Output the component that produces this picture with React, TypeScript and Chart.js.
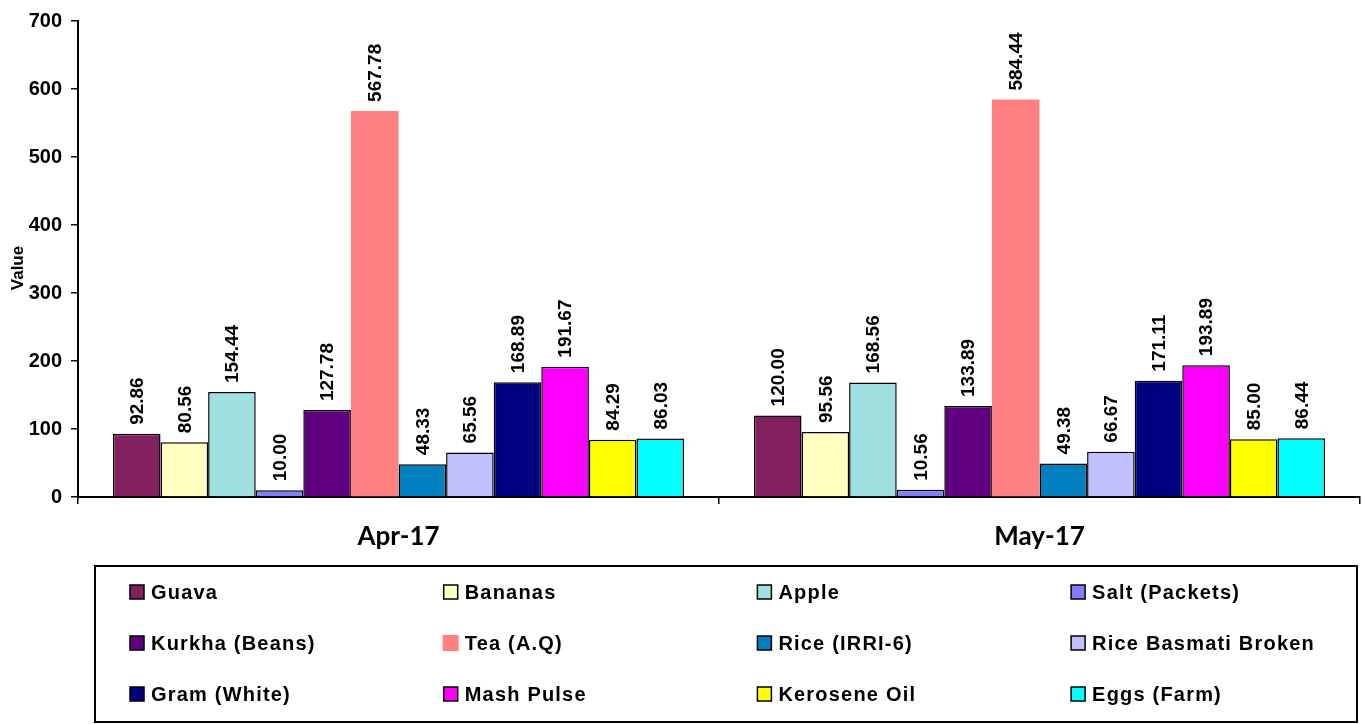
import React, { useEffect, useRef } from "react";
import { Chart, registerables } from "chart.js";

Chart.register(...registerables);

const categories = ["Apr-17", "May-17"];
const seriesNames = [
  "Guava",
  "Bananas",
  "Apple",
  "Salt (Packets)",
  "Kurkha (Beans)",
  "Tea (A.Q)",
  "Rice (IRRI-6)",
  "Rice Basmati Broken",
  "Gram (White)",
  "Mash Pulse",
  "Kerosene Oil",
  "Eggs (Farm)",
];
const guava = [92.86, 120.0];
const bananas = [80.56, 95.56];
const apple = [154.44, 168.56];
const salt = [10.0, 10.56];
const kurkha = [127.78, 133.89];
const tea = [567.78, 584.44];
const riceIrri = [48.33, 49.38];
const riceBasmati = [65.56, 66.67];
const gram = [168.89, 171.11];
const mash = [191.67, 193.89];
const kerosene = [84.29, 85.0];
const eggs = [86.03, 86.44];
const seriesValues = [guava, bananas, apple, salt, kurkha, tea, riceIrri, riceBasmati, gram, mash, kerosene, eggs];
const seriesColors = [
  "#832060",
  "#FFFFC0",
  "#A0E0E0",
  "#8080FF",
  "#600080",
  "#FF8080",
  "#0080C0",
  "#C0C0FF",
  "#000080",
  "#FF00FF",
  "#FFFF00",
  "#00FFFF",
];
const noBorder = ["Tea (A.Q)"];
const yTicks = [0, 100, 200, 300, 400, 500, 600, 700];
const yTitle = "Value";

const ARIAL = "Arial, 'Liberation Sans', sans-serif";

const labelPlugin = {
  id: "barLabels",
  afterDatasetsDraw(chart: any) {
    const ctx = chart.ctx;
    ctx.save();
    ctx.font = `bold 19px ${ARIAL}`;
    ctx.fillStyle = "#000";
    ctx.textAlign = "left";
    ctx.textBaseline = "middle";
    chart.data.datasets.forEach((ds: any, di: number) => {
      const meta = chart.getDatasetMeta(di);
      meta.data.forEach((el: any, i: number) => {
        const v = ds.data[i];
        ctx.save();
        ctx.translate(el.x, el.y - 9);
        ctx.rotate(-Math.PI / 2);
        ctx.fillText(Number(v).toFixed(2), 0, 1);
        ctx.restore();
      });
    });
    ctx.restore();
  },
};

const extrasPlugin = {
  id: "extras",
  afterDraw(chart: any) {
    const ctx = chart.ctx;
    ctx.save();
    ctx.font = `bold 17px ${ARIAL}`;
    ctx.fillStyle = "#000";
    ctx.textAlign = "center";
    ctx.textBaseline = "middle";
    ctx.translate(18, 268);
    ctx.rotate(-Math.PI / 2);
    ctx.fillText(yTitle, 0, 0);
    ctx.restore();

    ctx.save();
    ctx.strokeStyle = "#000";
    ctx.lineWidth = 2;
    ctx.strokeRect(95, 566, 1262, 156);
    ctx.font = `bold 20px ${ARIAL}`;
    (ctx as any).letterSpacing = "1.2px";
    ctx.textAlign = "left";
    ctx.textBaseline = "middle";
    seriesNames.forEach((name, i) => {
      const col = i % 4;
      const row = Math.floor(i / 4);
      const x = 130 + col * 313.7;
      const y = 592 + row * 51;
      ctx.fillStyle = seriesColors[i];
      if (noBorder.includes(name)) {
        ctx.fillRect(x - 1, y - 8, 16, 16);
      } else {
        ctx.fillRect(x, y - 7, 14, 14);
        ctx.lineWidth = 1.5;
        ctx.strokeStyle = "#000";
        ctx.strokeRect(x, y - 7, 14, 14);
      }
      ctx.fillStyle = "#000";
      ctx.fillText(name, x + 21, y + 1);
    });
    ctx.restore();
  },
};

export default function App() {
  const ref = useRef<HTMLCanvasElement>(null);
  useEffect(() => {
    if (!ref.current) return;
    const chart = new Chart(ref.current, {
      type: "bar",
      data: {
        labels: categories,
        datasets: seriesNames.map((name, i) => ({
          label: name,
          data: seriesValues[i],
          backgroundColor: seriesColors[i],
          borderColor: "#000",
          borderWidth: noBorder.includes(name) ? 0 : 1.5,
          categoryPercentage: 0.891,
          barPercentage: 1,
        })),
      },
      options: {
        responsive: false,
        animation: false,
        devicePixelRatio: 1,
        layout: { padding: { top: 18, right: 2, left: 0, bottom: 172 } },
        plugins: { legend: { display: false }, tooltip: { enabled: false } },
        scales: {
          x: {
            grid: {
              offset: true,
              drawOnChartArea: false,
              drawTicks: true,
              tickLength: 7,
              color: "#000",
              lineWidth: 1.5,
            },
            border: { display: true, color: "#000", width: 2 },
            ticks: {
              color: "#000",
              font: { family: "Lato, 'Open Sans', sans-serif", weight: "bold", size: 26 },
              padding: 17,
            },
            afterFit(s: any) {
              s.height = 55;
            },
          },
          y: {
            min: 0,
            max: 700,
            afterBuildTicks(s: any) {
              s.ticks = yTicks.map((v) => ({ value: v }));
            },
            grid: {
              drawOnChartArea: false,
              drawTicks: true,
              tickLength: 7,
              color: "#000",
              lineWidth: 1.5,
            },
            border: { display: true, color: "#000", width: 2 },
            ticks: {
              color: "#000",
              font: { family: ARIAL, weight: "bold", size: 20 },
              padding: 9,
            },
            afterFit(s: any) {
              s.width = 78;
            },
          },
        },
      },
      plugins: [labelPlugin, extrasPlugin],
    });
    return () => chart.destroy();
  }, []);
  return (
    <div style={{ position: "absolute", left: 0, top: 0, width: 1362, height: 724, background: "#fff" }}>
      <canvas ref={ref} width={1362} height={724} style={{ width: 1362, height: 724, display: "block" }} />
    </div>
  );
}
